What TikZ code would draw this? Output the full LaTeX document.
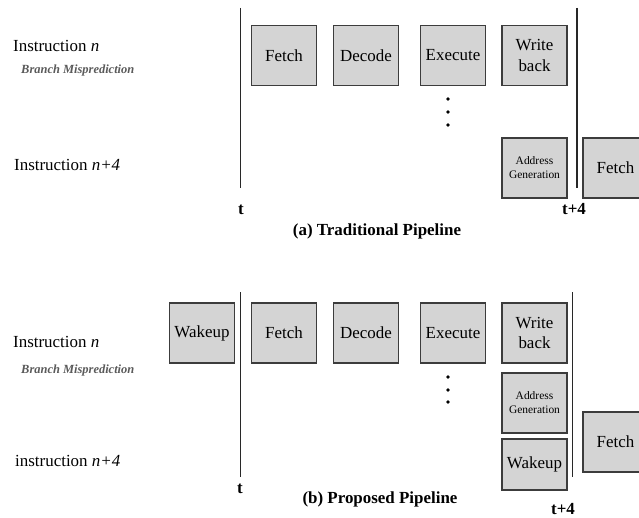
\documentclass[tikz,border=0pt]{standalone}
\usepackage{fontspec}
\setmainfont{Liberation Serif}
\definecolor{boxfill}{RGB}{212,212,212}
\definecolor{boxline}{RGB}{60,60,60}
\definecolor{missgray}{RGB}{90,90,90}
\definecolor{tline}{RGB}{40,40,40}
\begin{document}
\begin{tikzpicture}[x=1bp,y=-1bp,
  stage/.style={draw=boxline, fill=boxfill, line width=1.1bp, minimum width=65bp, minimum height=60bp, inner sep=0pt, align=center, font=\fontsize{17}{21}\selectfont},
  smalltext/.style={font=\fontsize{11.5}{14}\selectfont},
  lbl/.style={anchor=base west, inner sep=0pt, font=\fontsize{17}{20}\selectfont},
  miss/.style={anchor=base west, inner sep=0pt, text=missgray, font=\fontsize{12.5}{14}\selectfont\bfseries\itshape},
  tick/.style={anchor=base, inner sep=0pt, font=\fontsize{17}{20}\selectfont\bfseries},
  caption/.style={anchor=base, inner sep=0pt, font=\fontsize{17}{20}\selectfont\bfseries},
  timeline/.style={draw=tline, line width=0.9bp},
  dotmark/.style={circle, fill=black, inner sep=0pt, minimum size=3.6bp}]
\clip (0,0) rectangle (639,518);
\fill[white] (0,0) rectangle (639,518);

% ---------- (a) Traditional Pipeline ----------
\node[lbl] (ai) at (13,52) {Instruction \textit{n}};
\node[miss] (am) at (21,74) {Branch Misprediction};
\node[lbl] (ai4) at (14,171) {Instruction \textit{n+4}};

\coordinate (at1) at (240,8);
\coordinate (at2) at (240,188);
\draw[timeline] (at1) -- (at2);
\node[tick] (atl) at (241,215) {t};

\coordinate (atf1) at (577,8);
\coordinate (atf2) at (577,188);
\draw[timeline, line width=1.6bp] (atf1) -- (atf2);
\node[tick] (atfl) at (574,215) {t+4};

\node[stage] (afetch) at (284,55.5) {Fetch};
\node[stage] (adecode) at (366,55.5) {Decode};
\node[stage] (aexec) at (453,55.5) {Execute};
\node[stage] (awb) at (534.5,55.5) {Write\\back};
\node[dotmark] (ad1) at (448,99) {};
\node[dotmark] (ad2) at (448,112) {};
\node[dotmark] (ad3) at (448,125) {};
\node[stage, smalltext] (aag) at (534.5,168) {Address\\Generation};
\node[stage] (afetch2) at (615.5,168) {Fetch};

\node[caption] (acap) at (377,236) {(a) Traditional Pipeline};

% ---------- (b) Proposed Pipeline ----------
\node[lbl] (bi) at (13,347) {Instruction \textit{n}};
\node[miss] (bm) at (21,373) {Branch Misprediction};
\node[lbl] (bi4) at (15,466) {instruction \textit{n+4}};

\coordinate (bt1) at (240,292);
\coordinate (bt2) at (240,477);
\draw[timeline] (bt1) -- (bt2);
\node[tick] (btl) at (240,493) {t};

\coordinate (btf1) at (572,292);
\coordinate (btf2) at (572,477);
\draw[timeline] (btf1) -- (btf2);
\node[tick] (btfl) at (563,514) {t+4};

\node[stage] (bwake) at (202,333) {Wakeup};
\node[stage] (bfetch) at (284,333) {Fetch};
\node[stage] (bdecode) at (366,333) {Decode};
\node[stage] (bexec) at (453,333) {Execute};
\node[stage] (bwb) at (534.5,333) {Write\\back};
\node[dotmark] (bd1) at (448,377) {};
\node[dotmark] (bd2) at (448,390) {};
\node[dotmark] (bd3) at (448,402) {};
\node[stage, smalltext] (bag) at (534.5,403) {Address\\Generation};
\node[stage, minimum height=51bp] (bwake2) at (534.5,464.5) {Wakeup};
\node[stage] (bfetch2) at (615.5,442) {Fetch};

\node[caption] (bcap) at (380,503) {(b) Proposed Pipeline};
\end{tikzpicture}
\end{document}
